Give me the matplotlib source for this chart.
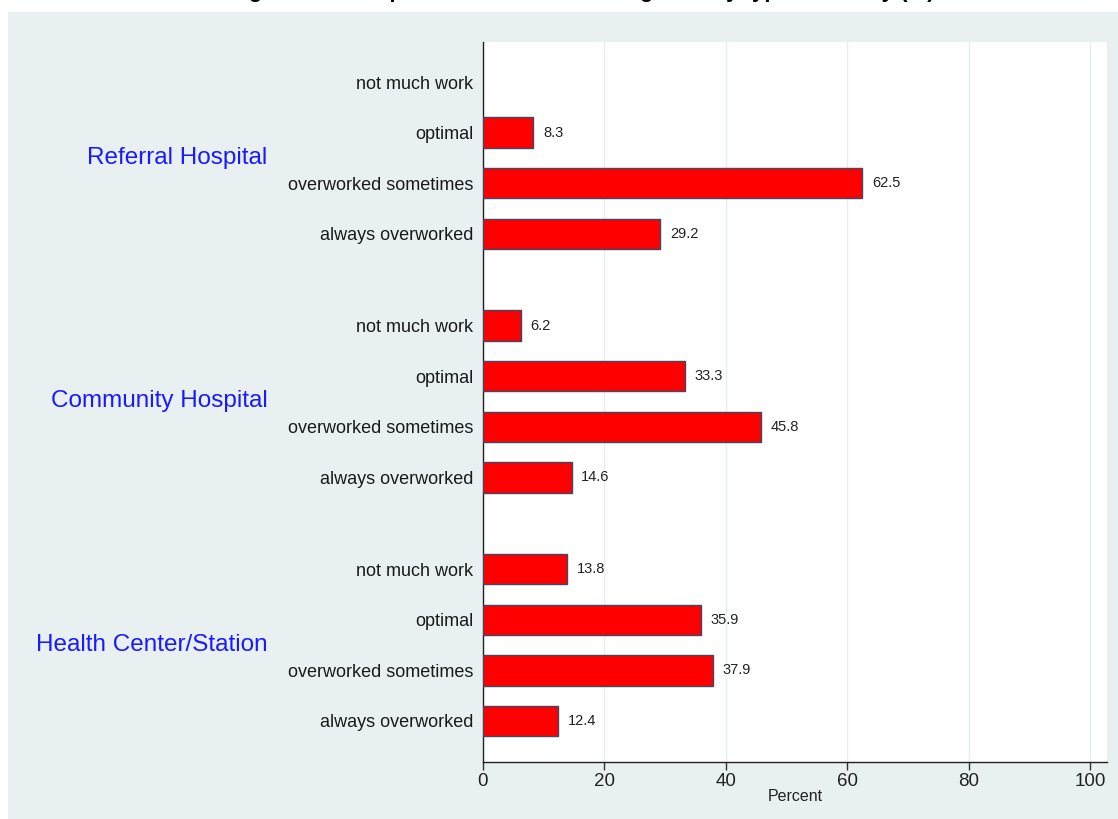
import matplotlib.pyplot as plt
from matplotlib.patches import Rectangle

groups = ['Referral Hospital', 'Community Hospital', 'Health Center/Station']
categories = ['not much work', 'optimal', 'overworked sometimes', 'always overworked']
values = [
    [0.0, 8.3, 62.5, 29.2],
    [6.2, 33.3, 45.8, 14.6],
    [13.8, 35.9, 37.9, 12.4],
]
xticks = [0, 20, 40, 60, 80, 100]

plt.rcParams['font.family'] = ['Liberation Sans', 'DejaVu Sans']

fig = plt.figure(figsize=(11.18, 8.19), dpi=100)
fig.patch.set_facecolor('white')
fig.patches.append(Rectangle((8 / 1118, 0), 1, (819 - 12) / 819,
                             transform=fig.transFigure, facecolor='#e8f0f2',
                             edgecolor='none', zorder=-10))

# title is cut off at the top of the original picture, only descenders show
fig.text(0.52, 1 + 2.5 / 819, 'Figure 4: Perception of workload among staff by type of facility (%)',
         ha='center', va='baseline', fontsize=16, fontweight='bold', color='black')

ax = fig.add_axes([483 / 1118, (819 - 762) / 819, (1107 - 483) / 1118, (762 - 42) / 819])
ax.set_facecolor('white')

gap = 0.81
ypos, labels, vals = [], [], []
for g, grp in enumerate(groups):
    for i, cat in enumerate(categories):
        ypos.append(g * (4 + gap) + i)
        labels.append(cat)
        vals.append(values[g][i])

for y, v in zip(ypos, vals):
    if v > 0:
        ax.barh(y, v, height=0.6, color='#ff0000', edgecolor='#3b4a66', linewidth=1, zorder=3)
        ax.text(v + 1.6, y, f'{v:.1f}', va='center', ha='left', fontsize=10.5, color='#222222')

for g, grp in enumerate(groups):
    yc = g * (4 + gap) + 1.5
    ax.text(-0.345, yc, grp, transform=ax.get_yaxis_transform(), ha='right', va='center',
            fontsize=17.5, color='#1a1aff')

ax.set_yticks(ypos)
ax.set_yticklabels(labels, fontsize=13, color='#1a1a1a')
ax.tick_params(axis='y', length=0, pad=7)
ax.set_ylim(ypos[-1] + 0.81, -0.79)

ax.set_xlim(0, 102.8)
ax.set_xticks(xticks)
ax.set_xticklabels([str(t) for t in xticks], fontsize=13.5, color='#222222')
ax.tick_params(axis='x', length=6, width=1, color='#333333', pad=2)
ax.set_xlabel('Percent', fontsize=11.5, color='#222222', labelpad=-1)
ax.grid(axis='x', color='#e6eef0', linewidth=1, zorder=0)

for side in ['top', 'right']:
    ax.spines[side].set_visible(False)
for side in ['left', 'bottom']:
    ax.spines[side].set_color('#222222')
    ax.spines[side].set_linewidth(1)

fig.savefig('out.png', dpi=100, facecolor=fig.get_facecolor())
